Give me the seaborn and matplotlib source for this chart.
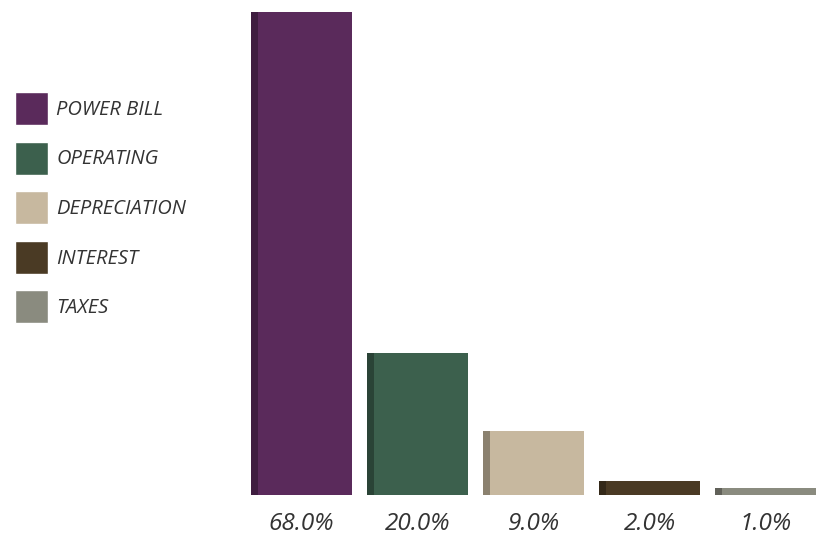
import matplotlib
matplotlib.use("Agg")
import matplotlib.pyplot as plt
import matplotlib.colors as mcolors
from matplotlib.patches import Rectangle
import seaborn as sns
import pandas as pd

categories = ["POWER BILL", "OPERATING", "DEPRECIATION", "INTEREST", "TAXES"]
values = [68.0, 20.0, 9.0, 2.0, 1.0]
tick_labels = ["68.0%", "20.0%", "9.0%", "2.0%", "1.0%"]
colors = ["#5a2a5b", "#3c604d", "#c7b89f", "#4a3a24", "#8a8b7f"]

sns.set_style("white")
plt.rcParams["font.family"] = ["Open Sans", "DejaVu Sans"]

df = pd.DataFrame({"category": categories, "value": values})

fig = plt.figure(figsize=(8.17, 5.35), dpi=100)
ax = fig.add_axes([243 / 817, 40 / 535, 581 / 817, 483 / 535])

sns.barplot(data=df, x="category", y="value", hue="category",
            palette=colors, order=categories, hue_order=categories,
            width=0.87, dodge=False, legend=True, ax=ax, saturation=1)

# pseudo-3D shading derived from the drawn bars
for p, c in zip(ax.patches[:len(categories)], colors):
    x0, y0 = p.get_x(), p.get_y()
    w, h = p.get_width(), p.get_height()
    dark = tuple(v * 0.7 for v in mcolors.to_rgb(c))
    ax.add_patch(Rectangle((x0, y0), w * 0.07, h, color=dark, lw=0, zorder=p.get_zorder() + 0.1))
    p.set_edgecolor("none")

ax.set_xlim(-0.5, 4.5)
ax.set_ylim(0, 68)
ax.set_xticks(range(len(categories)))
ax.set_xticklabels(tick_labels, fontsize=17.5, style="italic", color="#333333")
ax.tick_params(axis="x", length=0, pad=12)
ax.set_yticks([])
ax.set_xlabel("")
ax.set_ylabel("")
for s in ax.spines.values():
    s.set_visible(False)

handles, labels = ax.get_legend_handles_labels()
ax.get_legend().remove()
leg = fig.legend(handles, labels, loc="upper left",
                 bbox_to_anchor=(15 / 817, 1 - 92 / 535),
                 frameon=False, borderpad=0, borderaxespad=0,
                 handlelength=1.65, handleheight=2.15, labelspacing=0.82,
                 handletextpad=0.4,
                 prop={"size": 14.5, "style": "italic"})
for t in leg.get_texts():
    t.set_color("#333333")

fig.savefig("out.png", dpi=100)
